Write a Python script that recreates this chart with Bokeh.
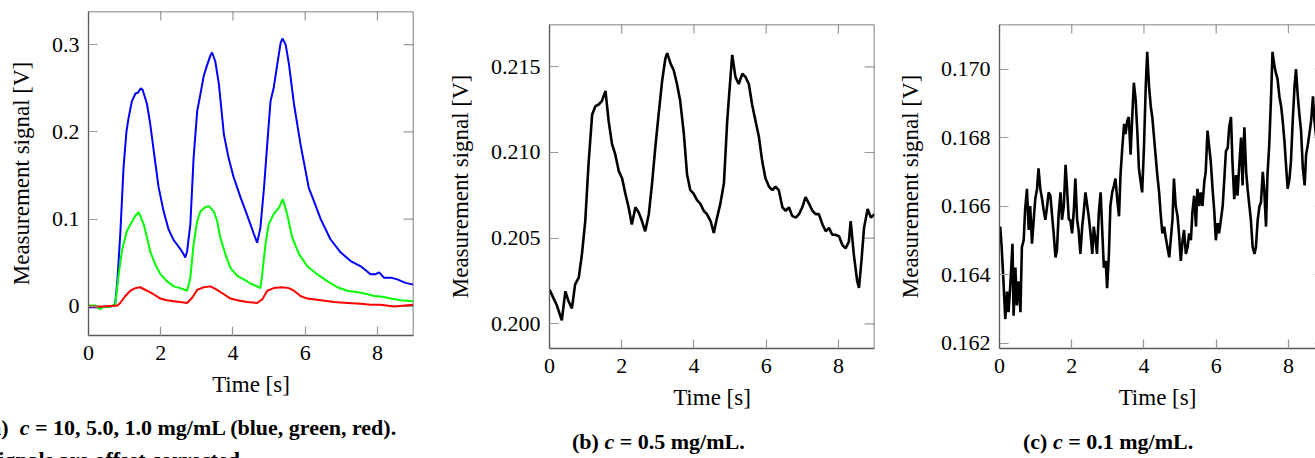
from bokeh.plotting import figure
from bokeh.layouts import row, column
from bokeh.models import Range1d, FixedTicker, PrintfTickFormatter, Span, Div
from bokeh.embed import file_html
from bokeh.resources import INLINE

# ---------------- data: panel (a) ----------------
t_blue = [0, 0.3, 0.6, 0.7, 0.74, 0.8, 0.88, 0.97, 1.05, 1.11, 1.2, 1.3, 1.37, 1.45, 1.5,
          1.62, 1.71, 1.82, 1.94, 2.08, 2.22, 2.36, 2.45, 2.54, 2.62, 2.68, 2.73, 2.82, 2.91,
          3.01, 3.08, 3.19, 3.28, 3.38, 3.42, 3.51, 3.61, 3.75, 3.88, 4.02, 4.21, 4.39, 4.58,
          4.67, 4.76, 4.86, 4.95, 5.04, 5.13, 5.23, 5.32, 5.37, 5.46, 5.55, 5.69, 5.87, 6.10,
          6.24, 6.43, 6.70, 6.98, 7.26, 7.54, 7.81, 7.95, 8.05, 8.18, 8.37, 8.55, 8.78, 9.0]
v_blue = [-0.001, -0.001, 0.000, 0.001, 0.003, 0.03, 0.083, 0.159, 0.200, 0.216, 0.235, 0.244,
          0.245, 0.250, 0.248, 0.232, 0.209, 0.174, 0.137, 0.109, 0.088, 0.076, 0.071, 0.066,
          0.061, 0.056, 0.063, 0.094, 0.170, 0.224, 0.239, 0.264, 0.276, 0.288, 0.291, 0.281,
          0.255, 0.197, 0.170, 0.148, 0.125, 0.105, 0.083, 0.073, 0.090, 0.136, 0.186, 0.235,
          0.251, 0.278, 0.302, 0.307, 0.300, 0.278, 0.232, 0.186, 0.136, 0.121, 0.100, 0.077,
          0.062, 0.052, 0.046, 0.037, 0.037, 0.039, 0.033, 0.033, 0.031, 0.027, 0.025]

t_green = [0, 0.2, 0.3, 0.4, 0.6, 0.74, 0.83, 0.93, 1.06, 1.16, 1.30, 1.39, 1.53, 1.62, 1.71,
           1.85, 1.99, 2.17, 2.36, 2.54, 2.73, 2.82, 2.91, 3.01, 3.10, 3.24, 3.33, 3.47, 3.56,
           3.65, 3.79, 3.93, 4.12, 4.30, 4.49, 4.67, 4.76, 4.81, 4.90, 4.99, 5.13, 5.27, 5.38,
           5.50, 5.64, 5.83, 6.06, 6.33, 6.61, 6.89, 7.17, 7.63, 7.91, 8.14, 8.37, 8.65, 9.0]
v_green = [0.001, 0.001, -0.003, -0.001, 0.0, 0.002, 0.035, 0.065, 0.086, 0.094, 0.104, 0.108,
           0.094, 0.079, 0.063, 0.048, 0.037, 0.029, 0.023, 0.021, 0.018, 0.033, 0.071, 0.098,
           0.109, 0.114, 0.115, 0.109, 0.098, 0.079, 0.060, 0.044, 0.035, 0.031, 0.026, 0.023,
           0.021, 0.037, 0.071, 0.094, 0.106, 0.113, 0.123, 0.106, 0.079, 0.060, 0.046, 0.037,
           0.029, 0.022, 0.018, 0.015, 0.012, 0.011, 0.009, 0.007, 0.006]

t_red = [0, 0.4, 0.8, 0.88, 1.02, 1.16, 1.30, 1.43, 1.62, 1.80, 1.99, 2.17, 2.36, 2.54, 2.73,
         2.87, 3.01, 3.19, 3.38, 3.56, 3.75, 3.93, 4.12, 4.39, 4.67, 4.81, 4.95, 5.13, 5.36,
         5.55, 5.69, 5.87, 6.06, 6.43, 6.80, 7.17, 7.54, 7.81, 8.09, 8.46, 9.0]
v_red = [0.0, 0.0, 0.001, 0.004, 0.012, 0.018, 0.021, 0.022, 0.018, 0.014, 0.009, 0.007, 0.006,
         0.005, 0.004, 0.010, 0.019, 0.022, 0.023, 0.019, 0.014, 0.009, 0.007, 0.005, 0.004,
         0.008, 0.018, 0.021, 0.022, 0.021, 0.018, 0.012, 0.009, 0.007, 0.005, 0.004, 0.003,
         0.002, 0.002, 0.000, 0.002]

# ---------------- data: panel (b) ----------------
t_b = [0.0, 0.11, 0.20, 0.34, 0.44, 0.53, 0.62, 0.71, 0.81, 0.90, 0.99, 1.08, 1.18, 1.27, 1.36,
       1.45, 1.55, 1.64, 1.73, 1.82, 1.92, 2.01, 2.10, 2.19, 2.28, 2.38, 2.47, 2.56, 2.65, 2.75,
       2.84, 2.93, 3.02, 3.12, 3.21, 3.26, 3.35, 3.44, 3.53, 3.62, 3.72, 3.81, 3.90, 3.99, 4.09,
       4.18, 4.27, 4.36, 4.46, 4.55, 4.64, 4.73, 4.83, 4.92, 4.99, 5.06, 5.15, 5.24, 5.34, 5.43,
       5.52, 5.61, 5.71, 5.80, 5.89, 5.98, 6.08, 6.17, 6.26, 6.35, 6.45, 6.54, 6.63, 6.72, 6.82,
       6.91, 7.00, 7.09, 7.19, 7.28, 7.37, 7.46, 7.56, 7.65, 7.74, 7.83, 7.92, 8.02, 8.11, 8.20,
       8.29, 8.34, 8.43, 8.52, 8.57, 8.64, 8.71, 8.81, 8.90, 9.0]
v_b = [0.2020, 0.2015, 0.2011, 0.2002, 0.2019, 0.2013, 0.2009, 0.2023, 0.2027, 0.2041, 0.2060,
       0.2093, 0.2122, 0.2127, 0.2128, 0.2130, 0.2136, 0.2118, 0.2105, 0.2099, 0.2089, 0.2085,
       0.2076, 0.2068, 0.2058, 0.2068, 0.2065, 0.2060, 0.2054, 0.2064, 0.2082, 0.2103, 0.2122,
       0.2142, 0.2155, 0.2158, 0.2152, 0.2148, 0.2140, 0.2130, 0.2111, 0.2087, 0.2078, 0.2076,
       0.2072, 0.2070, 0.2066, 0.2064, 0.2060, 0.2053, 0.2062, 0.2070, 0.2082, 0.2118, 0.2138,
       0.2157, 0.2144, 0.2140, 0.2146, 0.2144, 0.2140, 0.2128, 0.2118, 0.2109, 0.2095, 0.2085,
       0.2080, 0.2078, 0.2080, 0.2078, 0.2068, 0.2066, 0.2068, 0.2063, 0.2062, 0.2064, 0.2068,
       0.2074, 0.2070, 0.2066, 0.2064, 0.2064, 0.2058, 0.2054, 0.2056, 0.2052, 0.2052, 0.2051,
       0.2046, 0.2044, 0.2048, 0.2060, 0.2040, 0.2025, 0.2021, 0.2037, 0.2056, 0.2067, 0.2062,
       0.2064]

# ---------------- data: panel (c) ----------------
t_c = [0.0, 0.02, 0.06, 0.11, 0.16, 0.21, 0.25, 0.30, 0.36, 0.39, 0.44, 0.48, 0.53, 0.58, 0.62,
       0.67, 0.71, 0.76, 0.81, 0.85, 0.90, 0.94, 0.99, 1.04, 1.08, 1.13, 1.18, 1.22, 1.27, 1.32,
       1.36, 1.41, 1.45, 1.50, 1.55, 1.59, 1.64, 1.69, 1.73, 1.78, 1.83, 1.87, 1.92, 1.96, 2.01,
       2.06, 2.10, 2.15, 2.19, 2.24, 2.29, 2.33, 2.38, 2.43, 2.47, 2.52, 2.57, 2.61, 2.66, 2.70,
       2.75, 2.80, 2.84, 2.89, 2.94, 2.98, 3.03, 3.07, 3.12, 3.17, 3.21, 3.26, 3.31, 3.35, 3.40,
       3.45, 3.49, 3.54, 3.58, 3.63, 3.68, 3.72, 3.77, 3.82, 3.86, 3.91, 3.95, 4.00, 4.05, 4.09,
       4.14, 4.19, 4.23, 4.28, 4.32, 4.37, 4.42, 4.46, 4.51, 4.56, 4.60, 4.65, 4.70, 4.74, 4.79,
       4.83, 4.88, 4.93, 4.97, 5.02, 5.07, 5.11, 5.16, 5.21, 5.25, 5.30, 5.34, 5.39, 5.44, 5.48,
       5.53, 5.57, 5.62, 5.67, 5.71, 5.76, 5.81, 5.85, 5.90, 5.95, 5.99, 6.04, 6.08, 6.13, 6.18,
       6.22, 6.27, 6.32, 6.36, 6.41, 6.45, 6.50, 6.55, 6.59, 6.64, 6.69, 6.73, 6.78, 6.83, 6.87,
       6.92, 6.96, 7.01, 7.06, 7.10, 7.15, 7.20, 7.24, 7.29, 7.33, 7.38, 7.42, 7.47, 7.52, 7.56,
       7.61, 7.65, 7.70, 7.75, 7.80, 7.84, 7.89, 7.94, 7.98, 8.03, 8.07, 8.12, 8.17, 8.21, 8.26,
       8.31, 8.35, 8.40, 8.45, 8.49, 8.54, 8.58, 8.63, 8.68, 8.72, 8.77]
v_c = [0.1650, 0.1654, 0.1648, 0.1638, 0.1627, 0.1635, 0.1629, 0.1637, 0.1649, 0.1628, 0.1642,
       0.1631, 0.1638, 0.1629, 0.1648, 0.1650, 0.1659, 0.1665, 0.1653, 0.1660, 0.1649, 0.1655,
       0.1662, 0.1665, 0.1671, 0.1665, 0.1662, 0.1659, 0.1656, 0.1660, 0.1664, 0.1663, 0.1658,
       0.1652, 0.1645, 0.1647, 0.1658, 0.1664, 0.1656, 0.1660, 0.1672, 0.1665, 0.1656, 0.1656,
       0.1652, 0.1659, 0.1668, 0.1656, 0.1653, 0.1646, 0.1654, 0.1658, 0.1664, 0.1660, 0.1657,
       0.1652, 0.1646, 0.1654, 0.1650, 0.1646, 0.1658, 0.1664, 0.1654, 0.1642, 0.1644, 0.1636,
       0.1646, 0.1660, 0.1664, 0.1666, 0.1668, 0.1662, 0.1657, 0.1669, 0.1677, 0.1684, 0.1681,
       0.1685, 0.1686, 0.1675, 0.1687, 0.1696, 0.1691, 0.1681, 0.1671, 0.1667, 0.1664, 0.1677,
       0.1695, 0.1705, 0.1695, 0.1689, 0.1686, 0.1680, 0.1675, 0.1669, 0.1664, 0.1658, 0.1652,
       0.1654, 0.1651, 0.1648, 0.1645, 0.1650, 0.1656, 0.1668, 0.1660, 0.1657, 0.1652, 0.1644,
       0.1650, 0.1653, 0.1646, 0.1648, 0.1652, 0.1650, 0.1658, 0.1663, 0.1654, 0.1665, 0.1660,
       0.1664, 0.1660, 0.1667, 0.1670, 0.1682, 0.1677, 0.1673, 0.1665, 0.1658, 0.1650, 0.1655,
       0.1652, 0.1656, 0.1660, 0.1667, 0.1676, 0.1677, 0.1683, 0.1686, 0.1673, 0.1662, 0.1669,
       0.1663, 0.1672, 0.1680, 0.1666, 0.1683, 0.1670, 0.1665, 0.1660, 0.1656, 0.1648, 0.1646,
       0.1648, 0.1656, 0.1660, 0.1661, 0.1670, 0.1665, 0.1654, 0.1669, 0.1678, 0.1692, 0.1705,
       0.1701, 0.1699, 0.1697, 0.1692, 0.1689, 0.1685, 0.1679, 0.1671, 0.1665, 0.1668, 0.1673,
       0.1685, 0.1695, 0.1700, 0.1692, 0.1686, 0.1682, 0.1671, 0.1666, 0.1675, 0.1678, 0.1681,
       0.1685, 0.1692, 0.1685, 0.1680]

# ticks / labels
x_ticks = [0, 2, 4, 6, 8]
x_axis_end = 9
y_ticks_a = [0, 0.1, 0.2, 0.3]
y_ticks_b = [0.200, 0.205, 0.210, 0.215]
y_ticks_c = [0.162, 0.164, 0.166, 0.168, 0.170]
x_label = "Time [s]"
y_label = "Measurement signal [V]"
caption_a1 = "(a)&ensp;<i>c</i> = 10, 5.0, 1.0 mg/mL (blue, green, red)."
caption_a2 = "Signals are offset corrected."
caption_b = "(b) <i>c</i> = 0.5 mg/mL."
caption_c = "(c) <i>c</i> = 0.1 mg/mL."

FONT = "Liberation Serif"
FRAME_COL = "#5a5a5a"
TICK_COL = "#9a9a9a"
TICK_LEN = 9


def style_axis(ax):
    ax.major_tick_in = TICK_LEN
    ax.major_tick_out = 0
    ax.minor_tick_line_color = None
    ax.major_tick_line_color = TICK_COL
    ax.major_tick_line_width = 1.2
    ax.axis_line_color = FRAME_COL
    ax.axis_line_width = 1.3
    ax.major_label_text_font = FONT
    ax.major_label_text_font_size = "22px"
    ax.major_label_text_color = "black"
    ax.axis_label_text_font = FONT
    ax.axis_label_text_font_size = "23px"
    ax.axis_label_text_font_style = "normal"
    ax.axis_label_text_color = "black"


def make_panel(x_end, y_start, y_end, y_ticks, y_fmt, b_left, b_top, b_right, frame_w,
               fig_h, right_border=True):
    p = figure(frame_width=frame_w, frame_height=324,
               x_range=Range1d(0, x_end), y_range=Range1d(y_start, y_end),
               output_backend="svg", toolbar_location=None,
               min_border_left=b_left, min_border_top=b_top,
               min_border_right=b_right, min_border_bottom=fig_h - 324 - b_top)
    p.outline_line_color = None
    p.xgrid.visible = False
    p.ygrid.visible = False

    xa = p.xaxis[0]
    xa.ticker = FixedTicker(ticks=x_ticks)
    xa.axis_label = x_label
    style_axis(xa)
    xa.major_label_standoff = 10
    xa.axis_label_standoff = 9

    ya = p.yaxis[0]
    ya.ticker = FixedTicker(ticks=y_ticks)
    ya.formatter = PrintfTickFormatter(format=y_fmt)
    ya.axis_label = y_label
    style_axis(ya)
    ya.major_label_standoff = 9
    ya.axis_label_standoff = 15

    # mirrored ticks (top and right) pointing into the frame
    p.ray(x=x_ticks, y=[y_end] * len(x_ticks), length=TICK_LEN, length_units="screen",
          angle=-90, angle_units="deg", line_color=TICK_COL, line_width=1.2)
    p.ray(x=[x_axis_end] * len(y_ticks), y=y_ticks, length=TICK_LEN + 1, length_units="screen",
          angle=180, angle_units="deg", line_color=TICK_COL, line_width=1.2)
    p.add_layout(Span(location=y_end, dimension="width", line_color=FRAME_COL, line_width=1.5))
    if right_border:
        p.add_layout(Span(location=x_end, dimension="height", line_color=FRAME_COL,
                          line_width=1.5))
    return p


def caption_div(lines, width, height):
    base = ("font-family:'Liberation Serif';font-size:22px;font-weight:bold;"
            "line-height:27px;white-space:nowrap;color:black;")
    html = "".join('<div style="%smargin-left:%dpx;margin-top:%dpx">%s</div>'
                   % (base, left, top, txt) for txt, left, top in lines)
    return Div(text=html, width=width, height=height, margin=(0, 0, 0, 0))


# ---------------- panel (a) ----------------
pa = make_panel(9, -0.0333, 0.338, y_ticks_a, "%.1f", 88, 11, 27, 325, 414)
pa.yaxis[0].major_label_overrides = {0: "0"}
pa.line(t_blue, v_blue, line_color="#0000ff", line_width=2)
pa.line(t_green, v_green, line_color="#00ff00", line_width=2)
pa.line(t_red, v_red, line_color="#ff0000", line_width=2)
da = caption_div([(caption_a1, -17, 0), (caption_a2, -14, 5)], 440, 44)

# ---------------- panel (b) ----------------
pb = make_panel(9, 0.19856, 0.21747, y_ticks_b, "%.3f", 109, 24, 16, 325, 428)
pb.line(t_b, v_b, line_color="black", line_width=2.6)
db = caption_div([(caption_b, 132, 0)], 450, 30)

# ---------------- panel (c) ----------------
pc = make_panel(8.75, 0.16184, 0.17130, y_ticks_c, "%.3f", 109, 24, 0, 316, 428,
                right_border=False)
pc.line(t_c, v_c, line_color="black", line_width=2.6)
dc = caption_div([(caption_c, 133, 0)], 425, 30)

layout = row(column(pa, da), column(pb, db), column(pc, dc))
open("out.html", "w").write(file_html(layout, INLINE))
